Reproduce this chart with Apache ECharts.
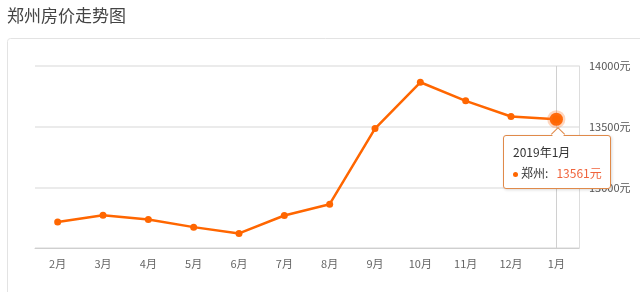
<!DOCTYPE html>
<html><head><meta charset="utf-8">
<script src="https://cdn.jsdelivr.net/npm/echarts@6/dist/echarts.min.js"></script>
<style>html,body{margin:0;padding:0;background:#fff;}#c{width:640px;height:292px;}</style>
</head><body><div id="c"></div>
<script>
const titleText = '郑州房价走势图';
const seriesName = '郑州';
const months = ['2月','3月','4月','5月','6月','7月','8月','9月','10月','11月','12月','1月'];
const tipLabels = ['2018年2月','2018年3月','2018年4月','2018年5月','2018年6月','2018年7月','2018年8月','2018年9月','2018年10月','2018年11月','2018年12月','2019年1月'];
const prices = [12715, 12770, 12735, 12672, 12620, 12768, 12861, 13484, 13866, 13713, 13584, 13561];
const yMin = 12500, yMax = 14000, yStep = 500;
const activeIndex = 11;

const FONT = '"Noto Sans CJK SC", "Noto Sans", sans-serif';
const chart = echarts.init(document.getElementById('c'), null, {renderer:'canvas'});
const seriesData = prices.map((v,i)=> i===activeIndex ? {
  value: v, symbolSize: 12,
  itemStyle: {color:'#ff6600', borderColor:'rgba(255,120,40,0.3)', borderWidth:5}
} : v);

chart.setOption({
  animation: false,
  textStyle: {fontFamily: FONT},
  title: {text: titleText, left: 2, top: 2, textStyle:{fontFamily:FONT, fontSize:17, fontWeight:'normal', color:'#444'}},
  graphic: [{type:'rect', shape:{x:7.5, y:38.5, width:700, height:300, r:3}, style:{fill:'none', stroke:'#e3e3e3', lineWidth:1}, z:-10, silent:true}],
  grid: {left:35, right:61, top:66, bottom:44},
  axisPointer: {z: 1},
  tooltip: {
    trigger:'axis', show:true, alwaysShowContent:true, triggerOn:'none',
    backgroundColor:'#fff', borderColor:'#e08a4a', borderWidth:1, padding:[5,9,5,9],
    extraCssText:'box-shadow:1px 1px 3px rgba(0,0,0,0.15);border-radius:3px;overflow:visible;',
    axisPointer:{type:'line', z:1, lineStyle:{color:'#d0d0d0', width:1, type:'solid'}},
    textStyle:{fontFamily:FONT, fontSize:12, color:'#333'},
    position: function(point, params, dom, rect, size){
      const p = chart.convertToPixel({seriesIndex:0}, [activeIndex, prices[activeIndex]]);
      return [p[0]-53, p[1]+16];
    },
    formatter: function(params){
      const p = params[0];
      return '<div style="position:relative;width:88px;line-height:21px;">'
        + '<div style="position:absolute;left:40px;top:-12px;width:9px;height:9px;background:#fff;border-left:1px solid #e08a4a;border-top:1px solid #e08a4a;transform:rotate(45deg);"></div>'
        + '<div>' + tipLabels[p.dataIndex] + '</div>'
        + '<div><span style="display:inline-block;width:5px;height:5px;border-radius:50%;background:#ff6600;vertical-align:middle;margin-right:3px;"></span>'
        + p.seriesName + ':&nbsp;&nbsp;&nbsp;<span style="color:#f0643c;">' + p.value + '元</span></div></div>';
    }
  },
  xAxis: {
    type:'category', data: months, boundaryGap:true,
    axisLine:{lineStyle:{color:'#cfcfcf'}},
    axisTick:{alignWithLabel:true, length:4, lineStyle:{color:'#dcdcdc'}},
    axisLabel:{color:'#666', fontSize:11, margin:10, fontFamily:FONT},
    axisPointer:{z:1, lineStyle:{color:'#d0d0d0', width:1, type:'solid'}}
  },
  yAxis: {
    type:'value', position:'right', min:yMin, max:yMax, interval:yStep,
    axisLine:{show:true, lineStyle:{color:'#dddddd'}},
    axisTick:{show:false},
    splitLine:{lineStyle:{color:'#e4e4e4', width:1.5}},
    axisLabel:{color:'#555', fontSize:11, margin:10, fontFamily:FONT, showMinLabel:false,
      formatter: v => v + '元'}
  },
  series: [{
    name: seriesName, type:'line', data: seriesData, z: 5,
    symbol:'circle', symbolSize:7, showAllSymbol:true,
    lineStyle:{color:'#ff6600', width:2.5},
    itemStyle:{color:'#ff6600'},
    emphasis:{disabled:true}
  }]
});
chart.dispatchAction({type:'showTip', seriesIndex:0, dataIndex:activeIndex});
</script></body></html>
